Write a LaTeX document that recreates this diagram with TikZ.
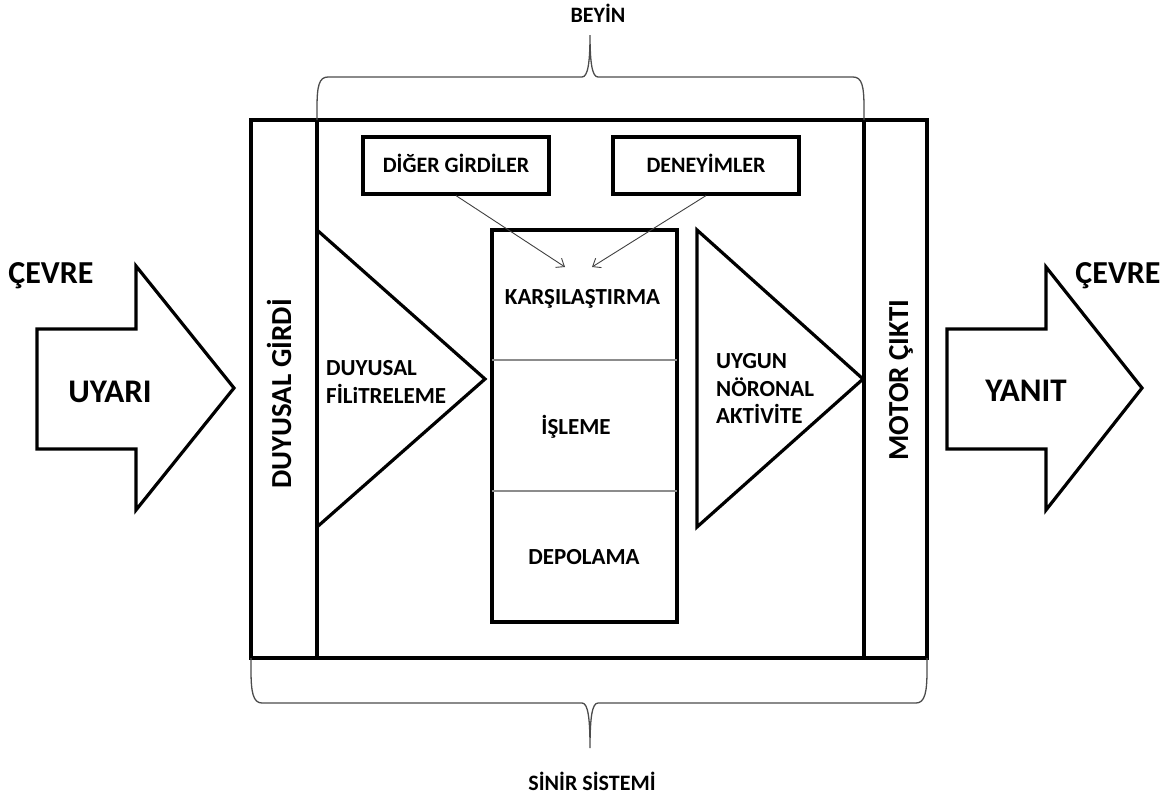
\documentclass[tikz,border=0pt]{standalone}
\usepackage{fontspec}
\setmainfont{Carlito}
\usetikzlibrary{arrows.meta}
\begin{document}
\begin{tikzpicture}[x=1pt,y=-1pt,
  thickline/.style={line width=3.2pt,black,line join=miter},
  thinline/.style={line width=1.2pt,black!45},
  bracestyle/.style={line width=1.3pt,black!70},
  feed/.style={line width=0.9pt,black!75,-{Straight Barb[length=7pt,width=11pt,line width=0.9pt]}},
  lbl/.style={inner sep=0pt,font=\bfseries},
  box/.style={draw,line width=3.2pt,inner sep=0pt}]
\useasboundingbox (0,0) rectangle (1174,801);
% outer frame
\draw[thickline] (251,120) rectangle (927,658);
\draw[thickline] (317,120) -- (317,658);
\draw[thickline] (864,120) -- (864,658);
% top boxes
\node[box,minimum width=186pt,minimum height=57pt] (diger) at (456,165.5) {};
\node[box,minimum width=186pt,minimum height=57pt] (deney) at (706,165.5) {};
\node[lbl,anchor=base,font=\bfseries\fontsize{22}{22}\selectfont] (digert) at (456,172) {DİĞER GİRDİLER};
\node[lbl,anchor=base,font=\bfseries\fontsize{22}{22}\selectfont] (deneyt) at (706,172) {DENEYİMLER};
% column
\node[box,minimum width=185pt,minimum height=392pt] (col) at (584.5,426) {};
\draw[thinline] (492,360) -- (677,360);
\draw[thinline] (492,491) -- (677,491);
\node[lbl,anchor=base,font=\bfseries\fontsize{23}{23}\selectfont] (kars) at (582.5,304) {KARŞILAŞTIRMA};
\node[lbl,anchor=base,font=\bfseries\fontsize{23}{23}\selectfont] (isl) at (576,434) {İŞLEME};
\node[lbl,anchor=base,font=\bfseries\fontsize{23}{23}\selectfont] (depo) at (584,564) {DEPOLAMA};
% feed arrows
\coordinate (t1) at (565,267);
\coordinate (t2) at (592,267);
\draw[feed] (diger.south) -- (t1);
\draw[feed] (deney.south) -- (t2);
% triangles
\draw[thickline] (317,230) -- (485,379) -- (317,527);
\draw[thickline] (697,230) -- (863,379) -- (697,527) -- cycle;
\node[lbl,anchor=base west,font=\bfseries\fontsize{23}{23}\selectfont] (duy1) at (326,375) {DUYUSAL};
\node[lbl,anchor=base west,font=\bfseries\fontsize{23}{23}\selectfont] (duy2) at (326,403) {FİLiTRELEME};
\node[lbl,anchor=base west,font=\bfseries\fontsize{23}{23}\selectfont] (uyg1) at (716,368) {UYGUN};
\node[lbl,anchor=base west,font=\bfseries\fontsize{23}{23}\selectfont] (uyg2) at (716,396) {NÖRONAL};
\node[lbl,anchor=base west,font=\bfseries\fontsize{23}{23}\selectfont] (uyg3) at (716,423) {AKTİVİTE};
% rotated labels
\node[lbl,anchor=base,rotate=90,font=\bfseries\fontsize{29}{29}\selectfont] (dgirdi) at (291,394) {DUYUSAL GİRDİ};
\node[lbl,anchor=base,rotate=90,font=\bfseries\fontsize{29}{29}\selectfont] (mcikti) at (908,380) {MOTOR ÇIKTI};
% block arrows
\draw[thickline] (37,329) -- (136,329) -- (136,266) -- (234,388) -- (136,510) -- (136,449) -- (37,449) -- cycle;
\draw[thickline] (947,329) -- (1046,329) -- (1046,267) -- (1142,388) -- (1046,510) -- (1046,449) -- (947,449) -- cycle;
\node[lbl,anchor=base,font=\bfseries\fontsize{33}{33}\selectfont] (uyari) at (110,402) {UYARI};
\node[lbl,anchor=base,font=\bfseries\fontsize{33}{33}\selectfont] (yanit) at (1026,401) {YANIT};
\node[lbl,anchor=base,font=\bfseries\fontsize{32}{32}\selectfont] (cevre1) at (51,283) {ÇEVRE};
\node[lbl,anchor=base,font=\bfseries\fontsize{32}{32}\selectfont] (cevre2) at (1118,283) {ÇEVRE};
% braces
\draw[bracestyle] (317,120) -- (317,108) .. controls (317,86) and (319,77) .. (328,77) -- (582,77)
  .. controls (588,77) and (590,62) .. (590,35) .. controls (590,62) and (592,77) .. (598,77)
  -- (853,77) .. controls (862,77) and (864,86) .. (864,108) -- (864,120);
\draw[bracestyle] (251,658) -- (251,670) .. controls (251,692) and (253,703) .. (262,703) -- (582,703)
  .. controls (588,703) and (590,718) .. (590,748) .. controls (590,718) and (592,703) .. (598,703)
  -- (916,703) .. controls (925,703) and (927,692) .. (927,670) -- (927,658);
\node[lbl,anchor=base,font=\bfseries\fontsize{22}{22}\selectfont] (beyin) at (598,22) {BEYİN};
\node[lbl,anchor=base,font=\bfseries\fontsize{22}{22}\selectfont] (sinir) at (592,790) {SİNİR SİSTEMİ};
\end{tikzpicture}
\end{document}
